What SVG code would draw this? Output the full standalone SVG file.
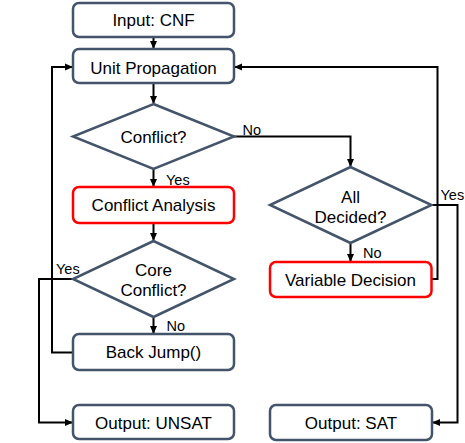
<svg xmlns="http://www.w3.org/2000/svg" width="465" height="443" viewBox="0 0 465 443">
<style>
.box{fill:#fff;stroke:#44546a;stroke-width:2.5}
.red{fill:#fff;stroke:#ff0000;stroke-width:2.5}
.dia{fill:#fff;stroke:#44546a;stroke-width:2.5}
.t{font-family:"Liberation Sans",Arial,sans-serif;font-size:17px;fill:#000;text-anchor:middle}
.l{font-family:"Liberation Sans",Arial,sans-serif;font-size:14.5px;fill:#000}
.e{fill:none;stroke:#000;stroke-width:2}
</style>
<defs>
<marker id="ah" markerWidth="8" markerHeight="8" refX="7" refY="4" orient="auto" markerUnits="userSpaceOnUse">
<path d="M0,0.5 L8,4 L0,7.5 Z" fill="#000"/>
</marker>
</defs>
<g id="connectors">
<path class="e" d="M153.5,37 V48" marker-end="url(#ah)"/>
<path class="e" d="M153.5,83 V103" marker-end="url(#ah)"/>
<path class="e" d="M153.5,169 V186" marker-end="url(#ah)"/>
<path class="e" d="M153.5,223 V240" marker-end="url(#ah)"/>
<path class="e" d="M153.5,317 V333" marker-end="url(#ah)"/>
<path class="e" d="M73,352.5 H52 V67 H72" marker-end="url(#ah)"/>
<path class="e" d="M73,279 H39 V422.5 H72" marker-end="url(#ah)"/>
<path class="e" d="M234,136.5 H350.5 V166" marker-end="url(#ah)"/>
<path class="e" d="M350.5,243 V261" marker-end="url(#ah)"/>
<path class="e" d="M432,279 H437.5 V67 H235" marker-end="url(#ah)"/>
<path class="e" d="M431.5,205 H457.5 V422.5 H433" marker-end="url(#ah)"/>
<text class="l" x="242.5" y="135">No</text>
<text class="l" x="166" y="185">Yes</text>
<text class="l" x="56" y="274">Yes</text>
<text class="l" x="166.5" y="331">No</text>
<text class="l" x="440.5" y="200">Yes</text>
<text class="l" x="363" y="258">No</text>
</g>
<g id="input">
<rect class="box" x="73" y="3" width="161" height="34" rx="6"/>
<text class="t" x="153.5" y="26">Input: CNF</text>
</g>
<g id="unitprop">
<rect class="box" x="73" y="49" width="161" height="34" rx="6"/>
<text class="t" x="153.5" y="74">Unit Propagation</text>
</g>
<g id="conflict">
<polygon class="dia" points="153.5,104 234,136.5 153.5,169 73,136.5"/>
<text class="t" x="153.5" y="142.5">Conflict?</text>
</g>
<g id="analysis">
<rect class="red" x="73" y="187" width="161" height="36" rx="6"/>
<text class="t" x="153.5" y="211">Conflict Analysis</text>
</g>
<g id="core">
<polygon class="dia" points="153.5,241 234,279 153.5,317 73,279"/>
<text class="t" x="153.5" y="276">Core</text>
<text class="t" x="153.5" y="296">Conflict?</text>
</g>
<g id="backjump">
<rect class="box" x="73" y="334" width="161" height="36" rx="6"/>
<text class="t" x="153.5" y="358">Back Jump()</text>
</g>
<g id="unsat">
<rect class="box" x="73" y="405" width="161" height="34" rx="6"/>
<text class="t" x="153.5" y="428.5">Output: UNSAT</text>
</g>
<g id="alldecided">
<polygon class="dia" points="350.5,167 431.5,205 350.5,243 270,205"/>
<text class="t" x="350.5" y="203">All</text>
<text class="t" x="350.5" y="223">Decided?</text>
</g>
<g id="decision">
<rect class="red" x="270" y="262" width="161.5" height="35" rx="6"/>
<text class="t" x="350.5" y="285.5">Variable Decision</text>
</g>
<g id="sat">
<rect class="box" x="270" y="405" width="162" height="35" rx="6"/>
<text class="t" x="351" y="428.5">Output: SAT</text>
</g>
</svg>
